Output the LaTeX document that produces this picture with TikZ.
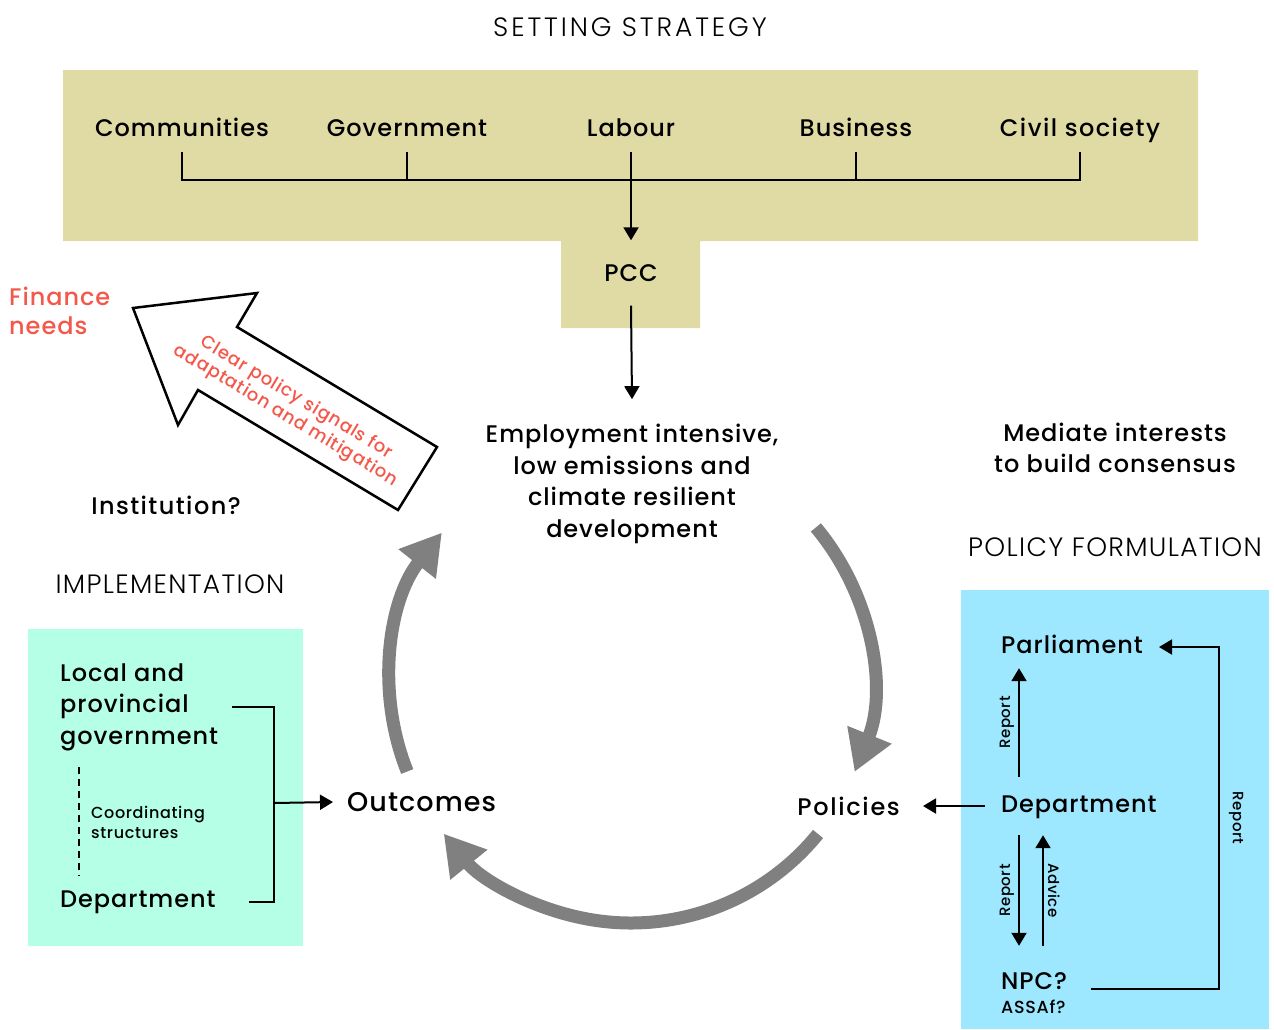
\documentclass[tikz,border=0pt]{standalone}
\usepackage{fontspec}
\setmainfont{Poppins Medium}[LetterSpace=4]
\newfontfamily\lightfont{Poppins Light}[LetterSpace=5]
\usetikzlibrary{arrows.meta}
\definecolor{tanbox}{HTML}{E0DAA5}
\definecolor{mintbox}{HTML}{B4FFE6}
\definecolor{bluebox}{HTML}{9EE8FF}
\definecolor{redtxt}{HTML}{F4584A}
\definecolor{cyclegray}{HTML}{808080}
\begin{document}
\begin{tikzpicture}[x=1pt,y=-1pt,
  lbl/.style={font=\fontsize{24}{31.5}\selectfont, inner sep=0pt},
  ttl/.style={font=\lightfont\fontsize{26.5}{30}\selectfont, inner sep=0pt},
  small/.style={font=\fontsize{16}{20}\selectfont, inner sep=0pt},
  tiny/.style={font=\fontsize{15}{18}\selectfont, inner sep=0pt},
  conn/.style={line width=2pt},
  arr/.style={conn, -{Triangle[length=13pt,width=15pt]}},
  cyc/.style={line width=13pt, cyclegray, -{Triangle[length=40pt,width=45pt]}},
  stake/.style={lbl, anchor=base, text depth=0pt, inner ysep=16pt},
  rl/.style={lbl, anchor=base west, text height=18pt, text depth=6pt}
]
\useasboundingbox (0,0) rectangle (1274,1029);

% backgrounds
\fill[tanbox] (63,70) -- (1198,70) -- (1198,241) -- (700,241) -- (700,328) -- (561,328) -- (561,241) -- (63,241) -- cycle;
\fill[mintbox] (28,629) rectangle (303,946);
\fill[bluebox] (961,590) rectangle (1269,1029);

% titles
\node[ttl, font=\lightfont\addfontfeature{LetterSpace=11}\fontsize{26.5}{30}\selectfont] (t1) at (630,27) {SETTING STRATEGY};
\node[ttl] (impl) at (170,584) {IMPLEMENTATION};
\node[ttl] (polf) at (1115,547) {POLICY FORMULATION};

% stakeholders
\node[stake] (com) at (182,136) {Communities};
\node[stake] (gov) at (407,136) {Government};
\node[stake] (lab) at (631,136) {Labour};
\node[stake] (bus) at (856,136) {Business};
\node[stake, font=\addfontfeature{LetterSpace=6}\fontsize{24}{31.5}\selectfont] (civ) at (1080,136) {Civil society};
\coordinate (b1) at (182,180);
\coordinate (b2) at (407,180);
\coordinate (b4) at (856,180);
\coordinate (b5) at (1080,180);
\draw[conn] (com.south) -- (b1) -- (b5) -- (civ.south);
\draw[conn] (gov.south) -- (b2);
\draw[conn] (bus.south) -- (b4);

\node[lbl, minimum height=65pt] (pcc) at (631,273) {PCC};
\draw[arr] (lab.south) -- (pcc.north);

\node[lbl, align=center, inner ysep=25pt] (dev) at (632,484) {Employment intensive,\\low emissions and\\climate resilient\\development};
\draw[arr] (pcc.south) -- (dev.north);

\node[lbl, align=center] (med) at (1115,448) {Mediate interests\\to build consensus};
\node[lbl, font=\addfontfeature{LetterSpace=6}\fontsize{24}{31.5}\selectfont] (inst) at (166,505) {Institution?};
\node[lbl, font=\fontsize{24}{29}\selectfont, text=redtxt, align=left, anchor=west] (fin) at (9,311) {Finance\\needs};

% big outline arrow
\draw[line width=2.5pt, fill=white, line join=miter] (133,308) -- (257,293) -- (237,327) -- (437,447) -- (398,510) -- (198,390) -- (178,425) -- cycle;
\node[font=\fontsize{18}{21}\selectfont, text=redtxt, align=center, rotate=-31, inner sep=0pt] (sig) at (291,407) {Clear policy signals for\\adaptation and mitigation};

% cycle
\coordinate (cc) at (631,682);
\draw[cyc] ([shift={(201.8:241pt)}]cc) arc[start angle=201.8, end angle=141.7, radius=241pt];
\draw[cyc] ([shift={(39.9:241pt)}]cc) arc[start angle=39.9, end angle=-21.9, radius=241pt];
\draw[cyc] ([shift={(-39.1:241pt)}]cc) arc[start angle=-39.1, end angle=-141, radius=241pt];

% implementation box
\node[lbl, align=left, anchor=west, inner xsep=14pt] (lg) at (46,707) {Local and\\provincial\\government};
\node[small, align=left, anchor=west] (coord) at (91,822) {Coordinating\\structures};
\coordinate (d1) at (79,767);
\coordinate (d2) at (79,876);
\draw[line width=2.5pt, dash pattern=on 7pt off 5pt] (d1) -- (d2);
\node[lbl, anchor=west, inner xsep=33pt] (ldep) at (27,902) {Department};
\coordinate (brk) at (274,803);
\draw[conn] (lg.east) -| (brk) |- (ldep.east);
\node[font=\fontsize{27}{30}\selectfont, anchor=west, inner xsep=14pt, inner ysep=0pt] (outc) at (333,802) {Outcomes};
\draw[arr] (brk) -- (outc.west);

\node[lbl, font=\addfontfeature{LetterSpace=7}\fontsize{24}{31.5}\selectfont, anchor=east, inner xsep=23pt] (pol) at (923,806) {Policies};

% policy formulation box
\node[rl, inner xsep=16pt, inner ysep=9pt] (parl) at (985,653) {Parliament};
\node[rl, inner xsep=16pt, inner ysep=17pt] (rdep) at (985,812) {Department};
\node[rl, inner xsep=24pt, inner ysep=25pt] (npc) at (977,989) {NPC?};
\node[font=\fontsize{17.5}{20}\selectfont, anchor=base west, inner sep=0pt] (assaf) at (1001,1013) {ASSAf?};
\coordinate (c1) at (1019,0);
\coordinate (c2) at (1043,0);
\coordinate (rc) at (1219,800);
\draw[arr] (rdep.west) -- (pol.east);
\draw[arr] (rdep.north -| c1) -- (parl.south -| c1) node[tiny, midway, rotate=90, anchor=south, inner sep=4pt] {Report};
\draw[arr] (rdep.south -| c1) -- (npc.north -| c1) node[tiny, midway, rotate=90, anchor=south, inner sep=4pt] {Report};
\draw[arr] (npc.north -| c2) -- (rdep.south -| c2) node[tiny, midway, rotate=-90, anchor=south, inner sep=4pt] {Advice};
\draw[arr] (npc.base east) -| (rc) |- (parl.east);
\node[tiny, rotate=-90] (rep3) at (1236,818) {Report};
\end{tikzpicture}
\end{document}
